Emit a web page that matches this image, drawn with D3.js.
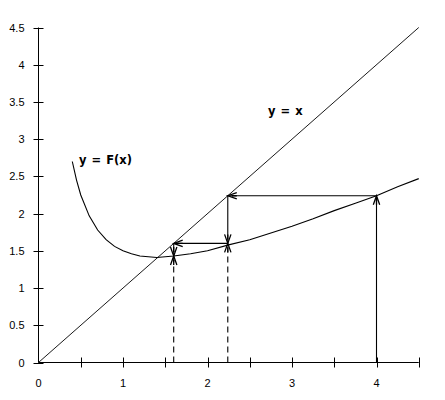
<!DOCTYPE html>
<html><head><meta charset="utf-8">
<script src="https://cdn.jsdelivr.net/npm/d3@7"></script>
<style>body{margin:0;background:#fff}svg{display:block}</style>
</head><body><svg id="c" width="445" height="400"></svg>
<script>
// Curve y = F(x)
const curveX = [0.4,0.45,0.5,0.6,0.7,0.8,0.9,1.0,1.1,1.2,1.3,1.4,1.5,1.6,1.8,2.0,2.25,2.5,2.75,3.0,3.25,3.5,3.75,4.0,4.25,4.5];
const curveY = [2.70,2.45,2.25,1.97,1.78,1.65,1.56,1.50,1.46,1.43,1.42,1.41,1.42,1.43,1.46,1.50,1.58,1.65,1.74,1.83,1.93,2.04,2.14,2.24,2.36,2.47];
// Diagonal y = x
const diagX = [0, 4.5];
// Iteration (cobweb) values
const iterX = [4, 2.24, 1.60];
const iterY = [2.24, 1.60, 1.43];
// Ticks
const xTicks = [0.5,1,1.5,2,2.5,3,3.5,4,4.5];
const xLabels = [0,1,2,3,4];
const yTicks = [0,0.5,1,1.5,2,2.5,3,3.5,4,4.5];
const labels = ["y = F(x)", "y = x"];

const svg = d3.select("#c");
const x = d3.scaleLinear().domain([0,4.5]).range([38.5,418.75]);
const y = d3.scaleLinear().domain([0,4.5]).range([362.5,27.5]);
const ink = "#000";

// axes
svg.append("line").attr("x1",x(0)).attr("x2",x(4.5)).attr("y1",y(0)).attr("y2",y(0)).attr("stroke",ink);
svg.append("line").attr("x1",x(0)).attr("x2",x(0)).attr("y1",y(0)).attr("y2",y(4.5)).attr("stroke",ink);
svg.selectAll(".xt").data(xTicks).enter().append("line")
  .attr("x1",d=>Math.round(x(d))+0.5).attr("x2",d=>Math.round(x(d))+0.5)
  .attr("y1",y(0)-5).attr("y2",y(0)+5).attr("stroke",ink);
svg.selectAll(".yt").data(yTicks).enter().append("line")
  .attr("y1",d=>Math.round(y(d))+0.5).attr("y2",d=>Math.round(y(d))+0.5)
  .attr("x1",x(0)-5).attr("x2",x(0)+5).attr("stroke",ink);
svg.selectAll(".xl").data(xLabels).enter().append("text")
  .attr("x",d=>x(d)).attr("y",387).attr("text-anchor","middle")
  .attr("font-family","Liberation Sans, Arial, sans-serif").attr("font-size",11).text(d=>d);
svg.selectAll(".yl").data(yTicks).enter().append("text")
  .attr("x",x(0)-14).attr("y",d=>y(d)+4).attr("text-anchor","end")
  .attr("font-family","Liberation Sans, Arial, sans-serif").attr("font-size",11).text(d=>d);

// diagonal
const line = d3.line().x(d=>x(d[0])).y(d=>y(d[1]));
svg.append("path").attr("d",line(diagX.map(v=>[v,v]))).attr("fill","none").attr("stroke",ink).attr("stroke-width",0.9);
// curve
svg.append("path").attr("d",line(curveX.map((v,i)=>[v,curveY[i]]))).attr("fill","none").attr("stroke",ink).attr("stroke-width",1.1);

// arrows
function arrow(x0,y0,x1,y1,dashed){
  const px0=x(x0), py0=y(y0), px1=x(x1), py1=y(y1);
  svg.append("line").attr("x1",px0).attr("y1",py0).attr("x2",px1).attr("y2",py1)
    .attr("stroke",ink).attr("stroke-width",1.1).attr("stroke-dasharray",dashed?"6,4":null);
  const a=Math.atan2(py1-py0,px1-px0), L=9, W=3.2;
  const bx=px1-L*Math.cos(a), by=py1-L*Math.sin(a);
  const nx=-Math.sin(a), ny=Math.cos(a);
  svg.append("path")
    .attr("d",`M${bx+nx*W},${by+ny*W}L${px1},${py1}L${bx-nx*W},${by-ny*W}M${px1-4*Math.cos(a)},${py1-4*Math.sin(a)}L${bx},${by}`)
    .attr("fill","none").attr("stroke",ink).attr("stroke-width",1.3);
}
// first step from x0 = 4
arrow(iterX[0],0,iterX[0],iterY[0],false);
for(let i=0;i<iterX.length-1;i++){
  arrow(iterX[i],iterY[i],iterY[i],iterY[i],false);          // horizontal to y = x
  arrow(iterX[i+1],iterY[i],iterX[i+1],iterY[i+1],false);    // down to curve
  arrow(iterX[i+1],0,iterX[i+1],iterY[i+1],true);            // dashed up from axis
}

// labels
svg.append("text").attr("x",79).attr("y",164).attr("font-family","DejaVu Sans, sans-serif")
  .attr("font-weight","bold").attr("font-size",11.5).attr("word-spacing",1).text(labels[0]);
svg.append("text").attr("x",268).attr("y",115).attr("font-family","DejaVu Sans, sans-serif")
  .attr("font-weight","bold").attr("font-size",11.5).attr("word-spacing",1).text(labels[1]);
</script></body></html>
